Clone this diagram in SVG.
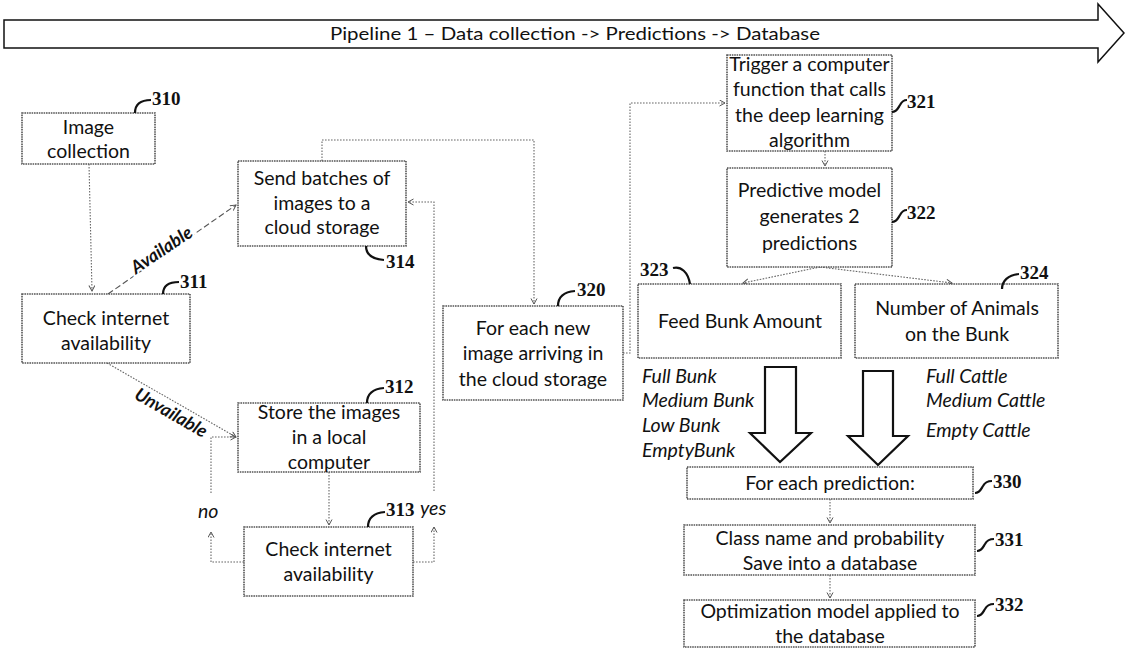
<svg xmlns="http://www.w3.org/2000/svg" width="1125" height="648" viewBox="0 0 1125 648">
<defs>
<marker id="ah" markerWidth="8" markerHeight="8" refX="6" refY="3.5" orient="auto" markerUnits="userSpaceOnUse">
<path d="M0.5,0.5 L6,3.5 L0.5,6.5" fill="none" stroke="#555" stroke-width="1"/>
</marker>
<style>
.box{fill:#fff;stroke:#555;stroke-width:1.6;stroke-dasharray:1.6 0.8}
.t{font-family:Lato,"Liberation Sans",sans-serif;font-size:19.5px;fill:#111;text-anchor:middle}
.it{font-family:Lato,"Liberation Sans",sans-serif;font-size:19.5px;font-style:italic;fill:#111}
.lab{font-family:"Liberation Serif",serif;font-size:19px;font-weight:bold;fill:#111}
.hook{fill:none;stroke:#111;stroke-width:2.2}
.con{fill:none;stroke:#666;stroke-width:1.1;stroke-dasharray:1.6 1.4}
.dash{fill:none;stroke:#555;stroke-width:1.1;stroke-dasharray:6 3}
.blk{fill:#fff;stroke:#111;stroke-width:2.2;stroke-linejoin:miter}
.cl{font-family:Lato,"Liberation Sans",sans-serif;font-size:18px;font-style:italic;font-weight:bold;fill:#111;text-anchor:middle;stroke:#fff;stroke-width:4;paint-order:stroke}
</style>
</defs>
<g id="pipeline">
<polygon points="4,20 1098,20 1098,4 1124,33 1098,62 1098,48 4,48" fill="#fff" stroke="#111" stroke-width="1.5"/>
<text x="575" y="40" font-family="Lato,'Liberation Sans',sans-serif" font-size="17" fill="#111" text-anchor="middle" textLength="490" lengthAdjust="spacingAndGlyphs">Pipeline 1 – Data collection -&gt; Predictions -&gt; Database</text>
</g>
<g id="connectors">
<path class="con" d="M89,164 L92,291" marker-end="url(#ah)"/>
<path class="dash" d="M108,294 L236,205" marker-end="url(#ah)"/>
<path class="con" d="M107,363 L236,437" marker-end="url(#ah)"/>
<path class="con" d="M329,472 L329,525" marker-end="url(#ah)"/>
<path class="con" d="M244,562 L211,562 L211,532" marker-end="url(#ah)"/>
<path class="con" d="M211,493 L211,437 L236,437" marker-end="url(#ah)"/>
<path class="con" d="M413,562 L434,562 L434,527" marker-end="url(#ah)"/>
<path class="con" d="M434,491 L434,202 L408,202" marker-end="url(#ah)"/>
<path class="con" d="M322,161 L322,140 L534,140 L534,304" marker-end="url(#ah)"/>
<path class="con" d="M623,353 L630,353 L630,103 L725,103" marker-end="url(#ah)"/>
<path class="con" d="M825,151 L825,166" marker-end="url(#ah)"/>
<path class="con" d="M820,267 L743,283" marker-end="url(#ah)"/>
<path class="con" d="M820,267 L952,283" marker-end="url(#ah)"/>
<path class="con" d="M830,499 L830,523" marker-end="url(#ah)"/>
<path class="con" d="M830,575 L830,598" marker-end="url(#ah)"/>
<text class="cl" x="0" y="0" transform="translate(165,255) rotate(-34)">Available</text>
<text class="cl" x="0" y="0" transform="translate(168,418) rotate(30)">Unvailable</text>
<text class="it" x="198" y="518">no</text>
<text class="it" x="420" y="515">yes</text>
</g>
<g id="n310">
<rect class="box" x="22" y="113" width="133" height="51"/>
<text class="t" x="88.5" y="134">Image</text>
<text class="t" x="88.5" y="158">collection</text>
<path class="hook" d="M135,113 C135,105 140,100 151,100"/>
<text class="lab" x="152" y="105">310</text>
</g>
<g id="n311">
<rect class="box" x="22" y="294" width="168" height="69"/>
<text class="t" x="106" y="325">Check internet</text>
<text class="t" x="106" y="350">availability</text>
<path class="hook" d="M163,294 C163,286 168,282 179,282"/>
<text class="lab" x="180" y="288">311</text>
</g>
<g id="n314">
<rect class="box" x="238" y="161" width="168" height="85"/>
<text class="t" x="322" y="185">Send batches of</text>
<text class="t" x="322" y="210">images to a</text>
<text class="t" x="322" y="234">cloud storage</text>
<path class="hook" d="M366,246 C366,254 371,259 384,260"/>
<text class="lab" x="386" y="268">314</text>
</g>
<g id="n312">
<rect class="box" x="238" y="403" width="182" height="69"/>
<text class="t" x="329" y="419">Store the images</text>
<text class="t" x="329" y="444">in a local</text>
<text class="t" x="329" y="469">computer</text>
<path class="hook" d="M367,403 C367,395 372,389 384,388"/>
<text class="lab" x="385" y="393">312</text>
</g>
<g id="n313">
<rect class="box" x="244" y="527" width="169" height="69"/>
<text class="t" x="328.5" y="556">Check internet</text>
<text class="t" x="328.5" y="581">availability</text>
<path class="hook" d="M368,527 C368,519 373,513 385,512"/>
<text class="lab" x="386" y="516">313</text>
</g>
<g id="n320">
<rect class="box" x="443" y="306" width="180" height="94"/>
<text class="t" x="533" y="335">For each new</text>
<text class="t" x="533" y="360">image arriving in</text>
<text class="t" x="533" y="386">the cloud storage</text>
<path class="hook" d="M558,306 C558,298 563,292 575,291"/>
<text class="lab" x="577" y="296">320</text>
</g>
<g id="n321">
<rect class="box" x="727" y="55" width="165" height="96"/>
<text class="t" x="809.5" y="71">Trigger a computer</text>
<text class="t" x="809.5" y="96">function that calls</text>
<text class="t" x="809.5" y="122">the deep learning</text>
<text class="t" x="809.5" y="147">algorithm</text>
<path class="hook" d="M892,112 C897,112 898,108 900,105 C902,101 904,100 907,100"/>
<text class="lab" x="907" y="108">321</text>
</g>
<g id="n322">
<rect class="box" x="727" y="168" width="165" height="99"/>
<text class="t" x="809.5" y="197">Predictive model</text>
<text class="t" x="809.5" y="223">generates 2</text>
<text class="t" x="809.5" y="250">predictions</text>
<path class="hook" d="M892,222 C897,222 898,218 900,215 C902,211 904,210 907,210"/>
<text class="lab" x="907" y="219">322</text>
</g>
<g id="n323">
<rect class="box" x="638" y="284" width="203" height="74"/>
<text class="t" x="740" y="328">Feed Bunk Amount</text>
<path class="hook" d="M673,268 C681,266 688,272 690,284"/>
<text class="lab" x="640" y="276">323</text>
<text class="it" x="642" y="383">Full Bunk</text>
<text class="it" x="642" y="407">Medium Bunk</text>
<text class="it" x="642" y="432">Low Bunk</text>
<text class="it" x="642" y="457">EmptyBunk</text>
</g>
<g id="n324">
<rect class="box" x="855" y="284" width="203" height="74"/>
<text class="t" x="957" y="315">Number of Animals</text>
<text class="t" x="957" y="341">on the Bunk</text>
<path class="hook" d="M1002,289 C1002,281 1008,275 1019,274"/>
<text class="lab" x="1020" y="279">324</text>
<text class="it" x="926" y="383">Full Cattle</text>
<text class="it" x="926" y="407">Medium Cattle</text>
<text class="it" x="926" y="437">Empty Cattle</text>
</g>
<g id="arrows">
<polygon class="blk" points="765,367 796,367 796,433 811,433 780,462 750,433 765,433"/>
<polygon class="blk" points="863,371 893,371 893,436 908,436 878,465 848,436 863,436"/>
</g>
<g id="n330">
<rect class="box" x="687" y="467" width="286" height="32"/>
<text class="t" x="830" y="490">For each prediction:</text>
<path class="hook" d="M975,493 C980,493 981,489 983,486 C985,482 988,481 992,481"/>
<text class="lab" x="993" y="488">330</text>
</g>
<g id="n331">
<rect class="box" x="684" y="525" width="291" height="50"/>
<text class="t" x="830" y="545">Class name and probability</text>
<text class="t" x="830" y="570">Save into a database</text>
<path class="hook" d="M977,551 C982,551 983,547 985,544 C987,540 990,539 994,539"/>
<text class="lab" x="995" y="546">331</text>
</g>
<g id="n332">
<rect class="box" x="684" y="600" width="291" height="47"/>
<text class="t" x="830" y="618">Optimization model applied to</text>
<text class="t" x="830" y="643">the database</text>
<path class="hook" d="M977,616 C982,616 983,612 985,609 C987,605 990,604 994,604"/>
<text class="lab" x="995" y="611">332</text>
</g>
</svg>
